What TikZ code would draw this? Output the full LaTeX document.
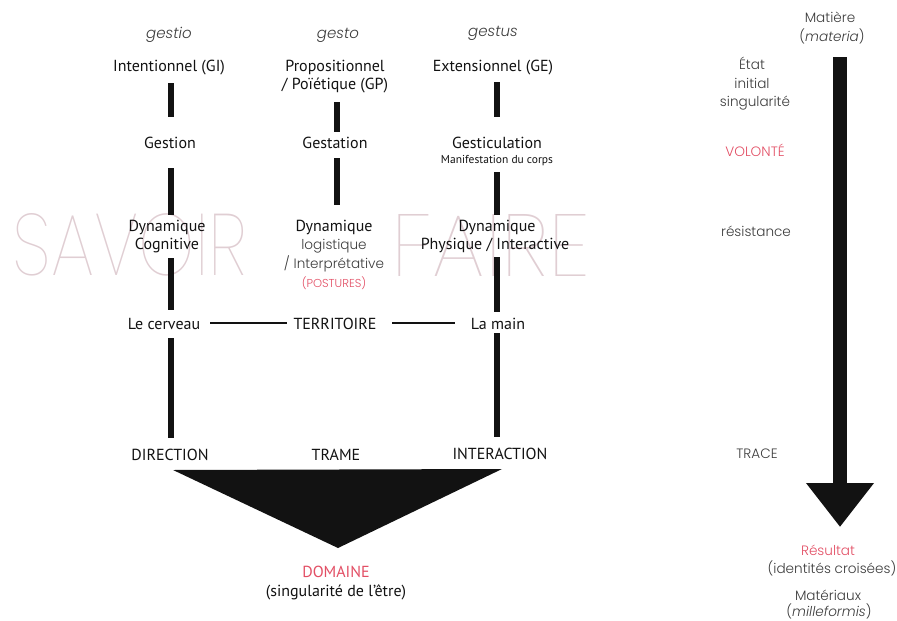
\documentclass[tikz,border=0pt]{standalone}
\usepackage{fontspec}
\setmainfont{PT Sans}
\IfFontExistsTF{Poppins Light}{\newfontfamily\lfont{Poppins Light}}{\newfontfamily\lfont{Poppins}}
\IfFontExistsTF{Poppins Thin}{\newfontfamily\wfont{Poppins Thin}}{\newfontfamily\wfont{Poppins}}
\usetikzlibrary{arrows.meta}
\definecolor{wm}{RGB}{224,206,211}
\definecolor{rtxt}{RGB}{60,60,60}
\definecolor{pinkred}{RGB}{226,78,100}
\definecolor{ink}{RGB}{18,18,18}
\begin{document}
\begin{tikzpicture}[x=1pt,y=-1pt,
  every node/.style={inner sep=0pt,anchor=mid,yshift=-4pt},
  main/.style={font=\fontsize{16}{18}\selectfont,text=ink},
  small/.style={font=\fontsize{11.5}{13}\selectfont,text=ink},
  lat/.style={font=\lfont\itshape\fontsize{15}{17}\selectfont,text=rtxt},
  geo/.style={font=\lfont\fontsize{13.6}{15}\selectfont,text=rtxt},
  geored/.style={font=\lfont\fontsize{13.6}{15}\selectfont,text=pinkred},
  wmark/.style={text=wm,anchor=center,yshift=0pt},
  bar/.style={line width=6pt,draw=ink},
  hline/.style={line width=2pt,draw=ink}]
\useasboundingbox (0,0) rectangle (897,621);
% watermark
\node[wmark] (wmA) at (130,241) {\resizebox{234pt}{62pt}{\wfont SAVOIR}};
\node[wmark] (wmB) at (491,241) {\resizebox{198pt}{62pt}{\wfont FAIRE}};
% left column
\node[lat] (gestio) at (169,32) {gestio};
\node[main] (gi) at (169,65) {Intentionnel (GI)};
\node[main] (gestion) at (170,142) {Gestion};
\node[main] (dynL) at (167,225) {Dynamique};
\node[main] (cogL) at (167,243) {Cognitive};
\node[main] (cerveau) at (164,323) {Le cerveau};
\node[main] (direction) at (170,454) {DIRECTION};
% middle column
\node[lat] (gesto) at (338,32) {gesto};
\node[main] (gp1) at (335,65) {Propositionnel};
\node[main] (gp2) at (335,83) {/ Poïétique (GP)};
\node[main] (gestation) at (335,142) {Gestation};
\node[main] (dynM) at (334,225) {Dynamique};
\node[geo] (logis) at (334,243) {logistique};
\node[geo] (interp) at (334,262) {/ Interprétative};
\node[font=\lfont\fontsize{11.5}{13}\selectfont,text=pinkred] (postures) at (334,281) {(POSTURES)};
\node[main] (terr) at (335,323) {TERRITOIRE};
\node[main] (trame) at (336,454) {TRAME};
% right column
\node[lat] (gestus) at (493,30) {gestus};
\node[main] (ge) at (493,65) {Extensionnel (GE)};
\node[main] (gesticulation) at (497,142) {Gesticulation};
\node[small] (manif) at (497,157) {Manifestation du corps};
\node[main] (dynR) at (497,225) {Dynamique};
\node[main] (phys) at (495,243) {Physique / Interactive};
\node[main] (lamain) at (498,323) {La main};
\node[main] (interaction) at (500,453) {INTERACTION};
% bottom
\node[main,text=pinkred] (domaine) at (336,571) {DOMAINE};
\node[main] (singu) at (336,590) {(singularité de l'être)};
% bars
\draw[bar] ([shift={(2,14)}]gi.mid) -- ([shift={(1,-29)}]gestion.mid);
\draw[bar] ([shift={(1,22)}]gestion.mid) -- ([shift={(4,-14)}]dynL.mid);
\draw[bar] ([shift={(4,11)}]cogL.mid) -- ([shift={(7,-17)}]cerveau.mid);
\draw[bar] ([shift={(7,11)}]cerveau.mid) -- ([shift={(1,-20)}]direction.mid);
\draw[bar] ([shift={(2,15)}]gp2.mid) -- ([shift={(2,-14)}]gestation.mid);
\draw[bar] ([shift={(2,12)}]gestation.mid) -- ([shift={(3,-24)}]dynM.mid);
\draw[bar] ([shift={(4,13)}]ge.mid) -- ([shift={(0,-29)}]gesticulation.mid);
\draw[bar] ([shift={(0,11)}]manif.mid) -- ([shift={(0,-14)}]dynR.mid);
\draw[bar] ([shift={(2,10)}]phys.mid) -- ([shift={(-1,-15)}]lamain.mid);
\draw[bar] ([shift={(-1,6)}]lamain.mid) -- ([shift={(-3,-20)}]interaction.mid);
\draw[hline] ([shift={(46,-4)}]cerveau.mid) -- ([shift={(-48,-4)}]terr.mid);
\draw[hline] ([shift={(57,-4)}]terr.mid) -- ([shift={(-43,-4)}]lamain.mid);
\fill[ink] ([shift={(3,12)}]direction.mid) -- ([shift={(2,12)}]interaction.mid) -- ([shift={(2,-27)}]domaine.mid) -- cycle;
% right part
\node[geo] (matiere) at (830,16) {Matière};
\node[geo] (materia) at (832,35) {(\textit{materia})};
\node[geo] (etat) at (752,63) {État};
\node[geo] (initial) at (752,82) {initial};
\node[geo] (singul) at (755,100) {singularité};
\node[geored] (volonte) at (755,150) {VOLONTÉ};
\node[geo] (resist) at (756,230) {résistance};
\node[geo] (trace) at (757,452) {TRACE};
\node[geored] (resultat) at (828,549) {Résultat};
\node[geo] (identites) at (832,567) {(identités croisées)};
\node[geo] (materiaux) at (828,594) {Matériaux};
\node[geo] (milleformis) at (829,610) {(\textit{milleformis})};
\draw[line width=14pt,draw=ink,-{Triangle[width=65pt,length=44pt]}] ([shift={(8,18)}]materia.mid) -- ([shift={(12,-26)}]resultat.mid);
\end{tikzpicture}
\end{document}
